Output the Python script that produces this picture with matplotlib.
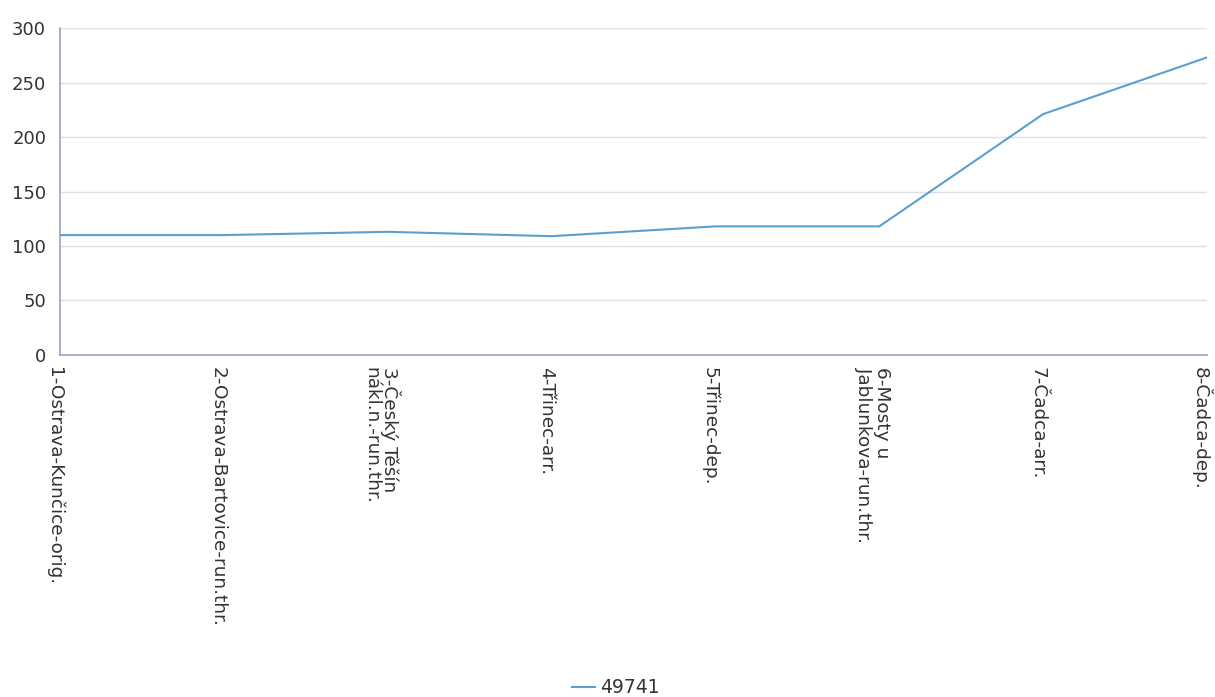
import matplotlib
matplotlib.use("Agg")
import matplotlib.pyplot as plt
import matplotlib.transforms as mtransforms

categories = ["1-Ostrava-Kunčice-orig.", "2-Ostrava-Bartovice-run.thr.",
              "3-Český Těšín\nnákl.n.-run.thr.", "4-Třinec-arr.", "5-Třinec-dep.",
              "6-Mosty u\nJablunkova-run.thr.", "7-Čadca-arr.", "8-Čadca-dep."]
values = [110, 110, 113, 109, 118, 118, 221, 273]
series_name = "49741"
yticks = [0, 50, 100, 150, 200, 250, 300]

fig = plt.figure(figsize=(12.15, 6.97), dpi=100)
ax = fig.add_axes([0.0494, 0.4907, 0.9440, 0.4691])
x = list(range(len(categories)))
ax.plot(x, values, color="#5b9fd0", linewidth=1.5, label=series_name)
ax.set_xlim(0, len(categories) - 1)
ax.set_ylim(0, 300)
ax.set_yticks(yticks)
ax.set_xticks(x)
ax.set_xticklabels([])
offset = mtransforms.ScaledTranslation(-6 / 100, -12 / 100, fig.dpi_scale_trans)
trans = ax.get_xaxis_transform() + offset
for xi, lab in zip(x, categories):
    ax.text(xi, 0, lab, transform=trans, rotation=270, ha="center", va="top",
            fontsize=13.3, color="#333333", linespacing=1.0,
            multialignment="left", rotation_mode="default", clip_on=False)
ax.tick_params(axis="y", length=0, pad=10, labelsize=13, labelcolor="#333333")
ax.tick_params(axis="x", length=0)
ax.grid(axis="y", color="#e0e0ea", linewidth=1)
ax.set_axisbelow(True)
for s in ["top", "right"]:
    ax.spines[s].set_visible(False)
ax.spines["left"].set_color("#a0a0c8")
ax.spines["bottom"].set_color("#a0a0c8")
ax.spines["left"].set_linewidth(1.2)
ax.spines["bottom"].set_linewidth(1.2)

fig.legend(loc="center", bbox_to_anchor=(0.507, 0.013), frameon=False,
           fontsize=13.5, handlelength=1.2, handletextpad=0.3, labelcolor="#333333",
           borderpad=0)
fig.savefig("out.png", dpi=100)
